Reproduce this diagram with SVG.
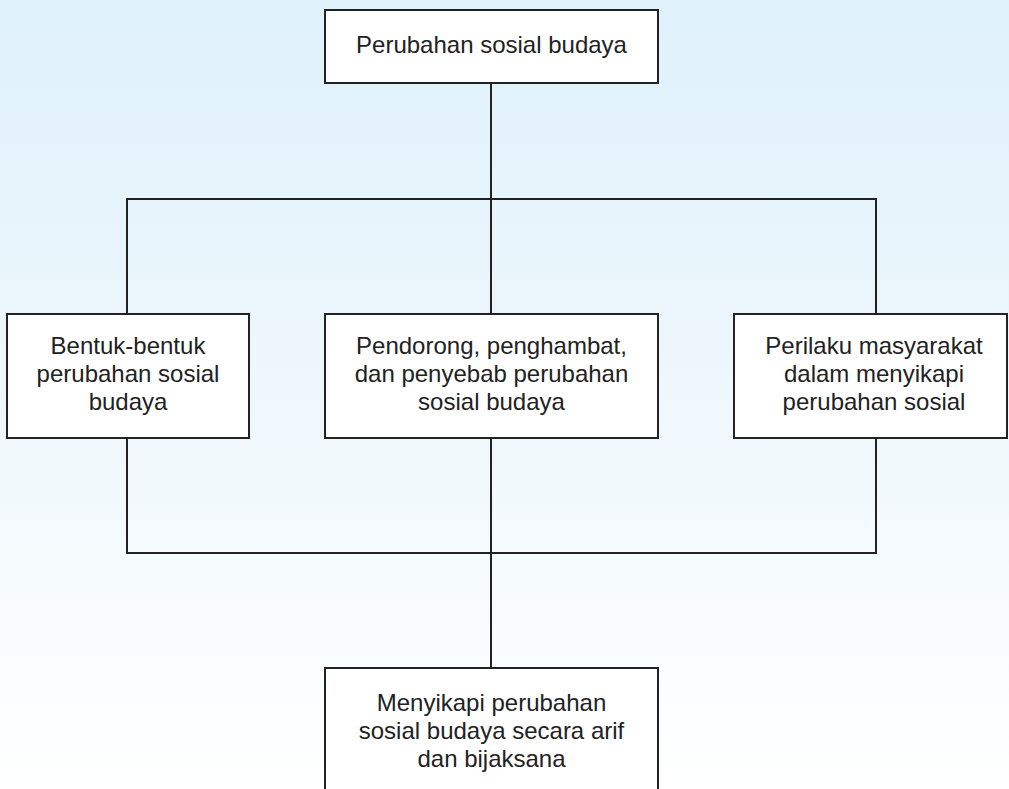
<svg xmlns="http://www.w3.org/2000/svg" width="1009" height="789" viewBox="0 0 1009 789">
<defs>
<linearGradient id="bg" x1="0" y1="0" x2="0" y2="1">
<stop offset="0" stop-color="#dff1fb"/>
<stop offset="0.5" stop-color="#eef7fc"/>
<stop offset="1" stop-color="#ffffff"/>
</linearGradient>
<style>
.box{fill:#ffffff;stroke:#222222;stroke-width:2}
.lbl{font-family:"Liberation Sans",Arial,sans-serif;font-size:24px;fill:#222222;text-anchor:middle}
.con{fill:none;stroke:#222222;stroke-width:2}
</style>
</defs>
<rect x="0" y="0" width="1009" height="789" fill="url(#bg)"/>
<g id="connectors">
<path class="con" d="M491,83 V199"/>
<path class="con" d="M127,314 V199 H876 V314"/>
<path class="con" d="M491,199 V314"/>
<path class="con" d="M127,438 V553 H876 V438"/>
<path class="con" d="M491,438 V668"/>
</g>
<g id="node-top">
<rect class="box" x="325" y="10" width="333" height="73"/>
<text class="lbl" x="491.5" y="53">Perubahan sosial budaya</text>
</g>
<g id="node-left">
<rect class="box" x="7" y="314" width="242" height="124"/>
<text class="lbl" x="128" y="354">Bentuk-bentuk</text>
<text class="lbl" x="128" y="382">perubahan sosial</text>
<text class="lbl" x="128" y="410">budaya</text>
</g>
<g id="node-middle">
<rect class="box" x="325" y="314" width="333" height="124"/>
<text class="lbl" x="491.5" y="354">Pendorong, penghambat,</text>
<text class="lbl" x="491.5" y="382">dan penyebab perubahan</text>
<text class="lbl" x="491.5" y="410">sosial budaya</text>
</g>
<g id="node-right">
<rect class="box" x="734" y="314" width="273" height="124"/>
<text class="lbl" x="874" y="354">Perilaku masyarakat</text>
<text class="lbl" x="874" y="382">dalam menyikapi</text>
<text class="lbl" x="874" y="410">perubahan sosial</text>
</g>
<g id="node-bottom">
<rect class="box" x="325" y="668" width="333" height="140"/>
<text class="lbl" x="491.5" y="711">Menyikapi perubahan</text>
<text class="lbl" x="491.5" y="739">sosial budaya secara arif</text>
<text class="lbl" x="491.5" y="767">dan bijaksana</text>
</g>
</svg>
